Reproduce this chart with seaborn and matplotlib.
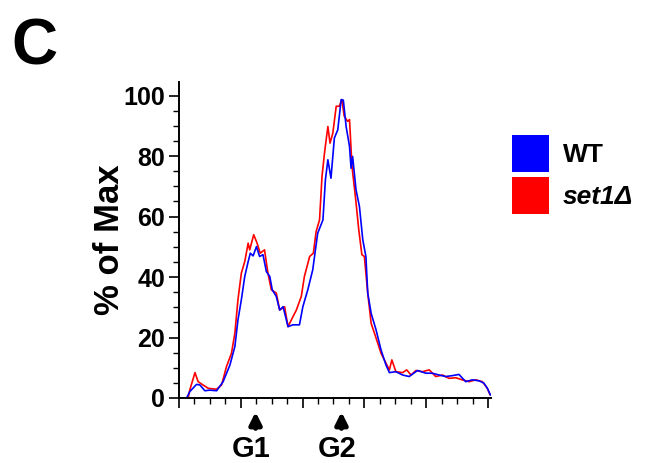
import numpy as np
import pandas as pd
import matplotlib
matplotlib.use('Agg')
import matplotlib.pyplot as plt
from matplotlib.ticker import MultipleLocator, NullFormatter
from matplotlib.patches import Patch
import seaborn as sns

sns.set_style('ticks', rc={'text.color': 'black', 'axes.labelcolor': 'black',
                           'xtick.color': 'black', 'ytick.color': 'black',
                           'axes.edgecolor': 'black'})
plt.rcParams['font.family'] = ['Liberation Sans', 'DejaVu Sans']
plt.rcParams['font.weight'] = 'bold'

# ---- data (channel, % of max) ----
set1_x = [0, 30, 35, 52, 62, 78, 95, 122, 138, 154, 170, 181, 191, 202, 213, 224,
          229, 242, 253, 263, 277, 288, 299, 315, 326, 342, 353, 369, 380, 396,
          406, 423, 435, 444, 455, 463, 471, 482, 489, 498, 509, 519, 527, 535,
          546, 552, 560, 571, 582, 592, 600, 611, 622, 638, 654, 670, 681, 689,
          702, 724, 737, 751, 767, 788, 810, 831, 853, 874, 896, 917, 939, 960,
          982, 998, 1007]
set1_y = [0, 0, 2.6, 8.4, 5.4, 4.3, 3.2, 2.9, 4.3, 10.4, 14.8, 21.4, 32.5, 41.3,
          45.1, 51.2, 49.0, 54.0, 51.2, 47.9, 49.0, 41.3, 35.8, 34.7, 29.1, 30.2,
          23.6, 26.9, 29.1, 33.6, 40.2, 46.8, 47.9, 55.1, 58.9, 73.3, 81.0, 89.8,
          84.3, 87.6, 96.5, 96.5, 98.7, 93.2, 91.5, 92.1, 76.6, 66.7, 55.6, 47.4,
          46.8, 34.7, 24.7, 19.8, 14.8, 11.5, 9.3, 12.6, 8.7, 8.4, 9.3, 7.6, 9.1,
          8.7, 9.3, 7.1, 7.6, 6.5, 6.7, 6.0, 5.4, 6.0, 5.4, 3.2, 1.0]

wt_x = [0, 25, 35, 57, 68, 84, 100, 122, 143, 165, 181, 191, 202, 213, 224, 231,
        240, 251, 261, 272, 283, 294, 302, 315, 326, 337, 353, 369, 390, 401,
        417, 433, 449, 466, 474, 482, 492, 503, 514, 525, 532, 541, 552, 557,
        562, 573, 584, 595, 605, 611, 622, 638, 654, 670, 681, 702, 724, 745,
        772, 799, 820, 842, 863, 885, 906, 928, 949, 971, 987, 998, 1008]
wt_y = [0, 0, 2.1, 4.5, 4.3, 2.4, 2.6, 2.4, 5.4, 10.9, 17.0, 25.8, 32.5, 40.2,
        45.1, 47.9, 47.0, 50.1, 46.8, 47.4, 41.8, 40.2, 35.8, 33.6, 29.1, 30.2,
        23.6, 24.2, 24.2, 30.2, 35.8, 42.4, 54.5, 58.9, 72.2, 78.8, 72.7, 86.0,
        88.7, 98.7, 98.5, 89.8, 83.2, 76.0, 79.9, 68.9, 63.4, 52.3, 46.8, 34.7,
        28.0, 22.5, 15.9, 10.9, 8.4, 8.7, 7.6, 7.1, 9.1, 8.2, 8.2, 7.6, 7.1, 7.4,
        7.8, 5.4, 6.0, 5.7, 4.9, 3.2, 1.0]

labels = ['WT', 'set1Δ']
colors = ['#0000ff', '#ff0000']
phases = ['G1', 'G2']
phase_pos = [248, 526]

fig = plt.figure(figsize=(6.53, 4.63), dpi=100)
ax = fig.add_axes([0.274, 0.1404, 0.478, 0.683])

# red first, blue on top
sns.lineplot(x=set1_x, y=set1_y, color=colors[1], lw=1.2, ax=ax)
sns.lineplot(x=wt_x, y=wt_y, color=colors[0], lw=1.2, ax=ax)

ax.set_xlim(0, 1010)
ax.set_ylim(0, 104.6)
sns.despine(ax=ax)
for s in ['left', 'bottom']:
    ax.spines[s].set_linewidth(1.4)

ax.xaxis.set_major_locator(MultipleLocator(200))
ax.xaxis.set_minor_locator(MultipleLocator(50))
ax.xaxis.set_major_formatter(NullFormatter())
ax.yaxis.set_major_locator(MultipleLocator(20))
ax.yaxis.set_minor_locator(MultipleLocator(5))
ax.tick_params(which='major', length=7, width=1.2, direction='out')
ax.tick_params(which='minor', length=4.5, width=1.0, direction='out')
ax.tick_params(axis='y', labelsize=18, pad=3)
for t in ax.get_yticklabels():
    t.set_fontweight('bold')

ax.set_ylabel('% of Max', fontsize=25, fontweight='bold', labelpad=-2)

# G1 / G2 arrows under the axis
for name, xp in zip(phases, phase_pos):
    ax.annotate('', xy=(xp, -0.035), xytext=(xp, -0.105),
                xycoords=('data', 'axes fraction'),
                textcoords=('data', 'axes fraction'),
                arrowprops=dict(arrowstyle='-|>,head_width=0.35,head_length=0.7',
                                color='black', lw=3.5))
    ax.text(xp - 15, -0.16, name, transform=ax.get_xaxis_transform(),
            ha='center', va='center', fontsize=21, fontweight='bold')

handles = [Patch(facecolor=c, edgecolor='none') for c in colors]
leg = ax.legend(handles, labels, loc='upper left',
                bbox_to_anchor=(512 / 653, 1 - 135 / 463),
                bbox_transform=fig.transFigure, frameon=False,
                fontsize=19, handlelength=1.4, handleheight=1.78,
                handletextpad=0.53, labelspacing=0.19, borderpad=0,
                borderaxespad=0)
for t in leg.get_texts():
    t.set_fontweight('bold')
leg.get_texts()[1].set_fontstyle('italic')

fig.text(0.018, 0.86, 'C', fontsize=46, fontweight='bold', ha='left', va='baseline')

fig.savefig('out.png', dpi=100)
